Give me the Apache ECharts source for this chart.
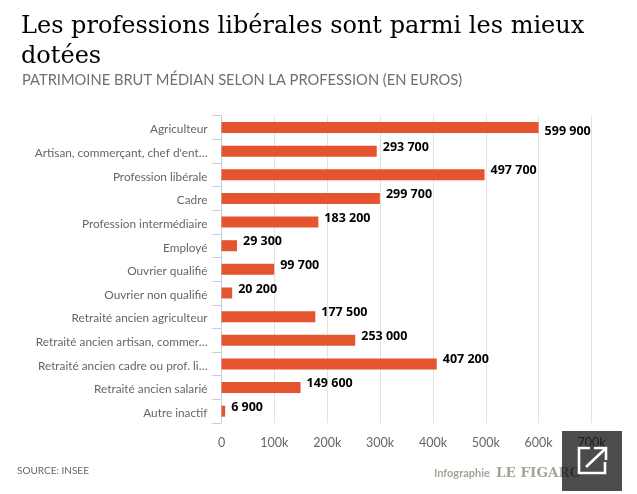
<!DOCTYPE html>
<html><head><meta charset="utf-8">
<style>html,body{margin:0;padding:0;background:#fff}#c{width:637px;height:494px}</style>
<script src="https://cdn.jsdelivr.net/npm/echarts@6/dist/echarts.min.js"></script>
</head><body><div id="c"></div>
<script>
const categories=["Agriculteur","Artisan, commerçant, chef d'ent…","Profession libérale","Cadre","Profession intermédiaire","Employé","Ouvrier qualifié","Ouvrier non qualifié","Retraité ancien agriculteur","Retraité ancien artisan, commer…","Retraité ancien cadre ou prof. li…","Retraité ancien salarié","Autre inactif"];
const values=[599900,293700,497700,299700,183200,29300,99700,20200,177500,253000,407200,149600,6900];
const tickLabels=["0","100k","200k","300k","400k","500k","600k","700k"];
const titleLines="Les professions libérales sont parmi les mieux\ndotées";
const subtitle="PATRIMOINE BRUT MÉDIAN SELON LA PROFESSION (EN EUROS)";
const sans="Lato";
const chart=echarts.init(document.getElementById('c'),null,{renderer:'canvas'});
chart.setOption({
 animation:false,
 backgroundColor:'#fff',
 grid:{left:221.5,top:115.7,width:370,height:307.3,containLabel:false},
 xAxis:{type:'value',min:0,max:700000,interval:100000,
  axisLine:{show:false},axisTick:{show:false},
  splitLine:{show:true,lineStyle:{color:'#e2e2e2',width:1}},
  axisLabel:{margin:13,color:'#666',fontFamily:sans,fontSize:12.5,formatter:(v,i)=>tickLabels[i]}},
 yAxis:{type:'category',inverse:true,data:categories,
  axisLine:{show:true,lineStyle:{color:'#c0d0e0',width:1}},
  axisTick:{show:true,length:9,alignWithLabel:false,lineStyle:{color:'#c0d0e0'}},
  axisLabel:{margin:14,formatter:v=>'{a|'+v+'}',
   rich:{a:{color:'#666',fontFamily:sans,fontSize:11.8,padding:[4,0,0,0]}}}},
 series:[{type:'bar',barWidth:11,itemStyle:{color:'#e4552f'},
  data:values.map((v,i)=>({value:v,label:{offset:i===0?[0,4]:[0,-4]}})),
  label:{show:true,position:'right',distance:6,color:'#000',fontFamily:'Open Sans',fontWeight:'bold',fontSize:12.5,
   formatter:p=>String(p.value).replace(/\B(?=(\d{3})+$)/g,' ')}}],
 graphic:[
  {type:'text',left:21,top:12,style:{text:titleLines,fill:'#000',font:'24px "DejaVu Serif"',lineHeight:30}},
  {type:'text',left:22,top:73,style:{text:subtitle,fill:'#6f6f6f',font:'14.7px '+sans}},
  {type:'text',left:17,top:466,style:{text:'SOURCE: INSEE',fill:'#666',font:'10px '+sans}},
  {type:'text',left:434,top:468,style:{text:'Infographie',fill:'#a8a297',font:'bold 11px '+sans}},
  {type:'text',left:496,top:466,style:{text:'LE FIGARO',fill:'#a8a297',font:'bold 13.5px "DejaVu Serif"'}},
  {type:'rect',shape:{x:562,y:431,width:60,height:60},style:{fill:'rgba(0,0,0,0.7)'},z:50},
  {type:'polyline',shape:{points:[[590,448],[579,448],[579,473],[605,473],[605,462]]},style:{stroke:'#fff',fill:'none',lineWidth:2.6},z:51},
  {type:'line',shape:{x1:586,y1:467,x2:605,y2:449},style:{stroke:'#fff',lineWidth:2.6},z:51},
  {type:'polyline',shape:{points:[[594,448],[606,448],[606,460]]},style:{stroke:'#fff',fill:'none',lineWidth:2.6},z:51}
 ]
});
</script></body></html>
